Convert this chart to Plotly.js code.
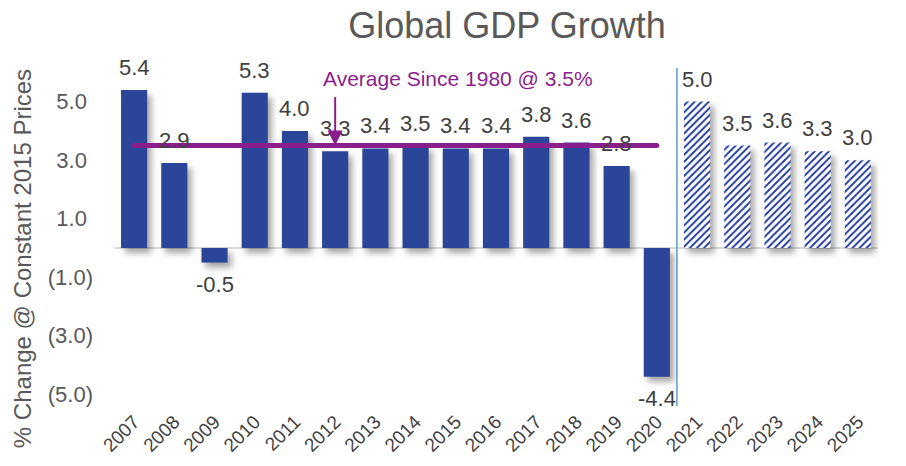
<!DOCTYPE html>
<html>
<head>
<meta charset="utf-8">
<script src="https://cdn.plot.ly/plotly-3.0.1.min.js"></script>
<style>
  html, body { margin: 0; padding: 0; background: #fff; }
  #chart { width: 906px; height: 466px; }
  .trace.bars .point path { filter: drop-shadow(4px 5px 3px rgba(0,0,0,0.35)); }
  .scatterlayer .js-line { stroke-linecap: round; }
</style>
</head>
<body>
<div id="chart"></div>
<script>
// ---- data ----
const years = ['2007','2008','2009','2010','2011','2012','2013','2014','2015','2016','2017','2018','2019','2020','2021','2022','2023','2024','2025'];
const actualYears = ['2007','2008','2009','2010','2011','2012','2013','2014','2015','2016','2017','2018','2019','2020'];
const actualGrowth = [5.4, 2.9, -0.5, 5.3, 4.0, 3.3, 3.4, 3.5, 3.4, 3.4, 3.8, 3.6, 2.8, -4.4];
const forecastYears = ['2021','2022','2023','2024','2025'];
const forecastGrowth = [5.0, 3.5, 3.6, 3.3, 3.0];
const averageSince1980 = 3.5;
const averageYears = ['2007', '2020'];
const averageLabel = 'Average Since 1980 @ 3.5%';
const yTickVals = [5, 3, 1, -1, -3, -5];
const yTickText = ['5.0\u00a0', '3.0\u00a0', '1.0\u00a0', '(1.0)', '(3.0)', '(5.0)'];
const chartTitle = 'Global GDP Growth';
const yTitle = '% Change @ Constant 2015 Prices';

// ---- styles ----
const FONT = 'Liberation Sans, Arial, sans-serif';
const BLUE = '#2B4699';
const PURPLE = '#8B1E8D';

const traces = [
  {
    type: 'bar', x: actualYears, y: actualGrowth,
    marker: { color: BLUE, line: { width: 0 } },
    hoverinfo: 'x+y', showlegend: false
  },
  {
    type: 'bar', x: forecastYears, y: forecastGrowth,
    marker: {
      color: '#ffffff',
      line: { width: 0 },
      pattern: { shape: '/', fgcolor: '#1F3A9A', bgcolor: '#ffffff', size: 5, solidity: 0.38 }
    },
    hoverinfo: 'x+y', showlegend: false
  },
  {
    type: 'scatter', mode: 'lines',
    x: averageYears, y: [averageSince1980, averageSince1980],
    line: { color: PURPLE, width: 5 },
    hoverinfo: 'skip', showlegend: false
  }
];

const annotations = [];
const allYears = actualYears.concat(forecastYears);
const allVals = actualGrowth.concat(forecastGrowth);
allYears.forEach((yr, i) => {
  const v = allVals[i];
  annotations.push({
    x: years.indexOf(yr), y: v, xref: 'x', yref: 'y',
    text: v.toFixed(1), showarrow: false,
    yanchor: v >= 0 ? 'bottom' : 'top',
    yshift: v >= 0 ? 8 : -7,
    font: { family: FONT, size: 22, color: '#404040' }
  });
});
// average label text
annotations.push({
  x: (458 - 114) / 764, xref: 'paper', y: averageSince1980, yref: 'y',
  xanchor: 'center', yanchor: 'middle', yshift: 67,
  text: averageLabel, showarrow: false,
  font: { family: FONT, size: 21, color: PURPLE }
});
// arrow to average line
annotations.push({
  x: years.indexOf('2012'), y: averageSince1980, xref: 'x', yref: 'y',
  text: '', showarrow: true, arrowhead: 2, arrowsize: 1.5, arrowwidth: 2,
  arrowcolor: PURPLE, ax: 0, ay: -50, standoff: 0
});
// y axis title
annotations.push({
  xref: 'paper', yref: 'paper', x: -0.1204, y: 0.408,
  xanchor: 'center', yanchor: 'middle', textangle: -90,
  text: yTitle, showarrow: false,
  font: { family: FONT, size: 24, color: '#595959' }
});

const layout = {
  width: 906, height: 466,
  margin: { l: 114, r: 28, t: 46, b: 60 },
  paper_bgcolor: '#ffffff', plot_bgcolor: '#ffffff',
  title: {
    text: chartTitle, x: 507 / 906, xanchor: 'center', xref: 'container',
    y: 1 - 25 / 466, yanchor: 'middle', yref: 'container',
    font: { family: FONT, size: 36, color: '#595959' }
  },
  barmode: 'overlay', bargap: 0.35,
  xaxis: {
    type: 'category', categoryorder: 'array', categoryarray: years,
    range: [-0.5, years.length - 0.5], autorange: false,
    tickangle: -45, showgrid: false, showline: false, zeroline: false,
    ticks: '', tickfont: { family: FONT, size: 19, color: '#404040' }
  },
  yaxis: {
    range: [-5.4, 6.9], autorange: false, tickvals: yTickVals, ticktext: yTickText,
    showgrid: false, showline: false, ticks: '',
    zeroline: true, zerolinecolor: '#d9d9d9', zerolinewidth: 1.5,
    ticklabelstandoff: 20,
    tickfont: { family: FONT, size: 22, color: '#595959' }
  },
  shapes: [{
    type: 'line', xref: 'x', yref: 'y',
    x0: 13.5, x1: 13.5, y0: -5.4, y1: 6.15,
    line: { color: '#5B9BD5', width: 1.5 }
  }],
  annotations: annotations,
  font: { family: FONT }
};

Plotly.newPlot('chart', traces, layout, { displayModeBar: false, staticPlot: true });
</script>
</body>
</html>
